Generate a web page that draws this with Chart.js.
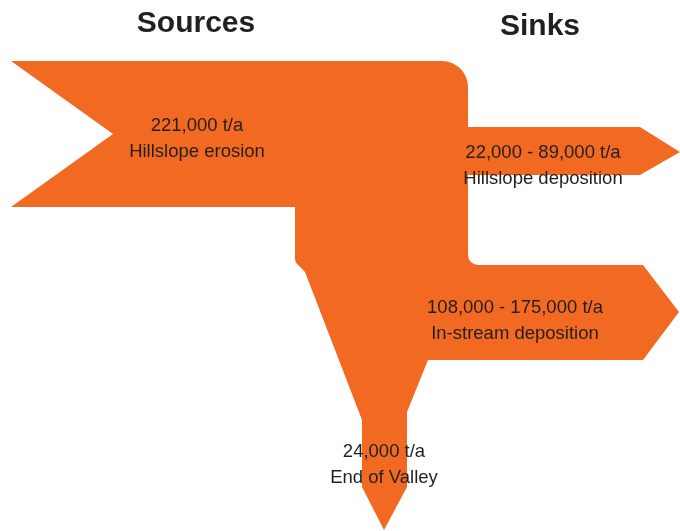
<!DOCTYPE html>
<html>
<head>
<meta charset="utf-8">
<script src="https://cdn.jsdelivr.net/npm/chart.js@4.4.1/dist/chart.umd.min.js"></script>
<style>
  body { margin: 0; background: #fff; }
  #wrap { width: 680px; height: 531px; }
</style>
</head>
<body>
<div id="wrap"><canvas id="flowChart" width="680" height="531"></canvas></div>
<script>
// sediment budget - values
const flowNames = ['Hillslope erosion', 'Hillslope deposition', 'In-stream deposition', 'End of Valley'];
const flowLow = [221000, 22000, 108000, 24000];
const flowHigh = [221000, 89000, 175000, 24000];
const groupTitles = ['Sources', 'Sinks'];

// layout of the diagram (chart units = px of the reference)
const labelAnchors = [{ x: 197, y: 139 }, { x: 543, y: 166 }, { x: 515, y: 321 }, { x: 384, y: 465 }];
const titleAnchors = [{ x: 196, y: 24 }, { x: 540, y: 27 }];
const outline = [
    { x: 11, y: 61 }, { x: 468, y: 61, r: 26 }, { x: 468, y: 127 }, { x: 640, y: 127 },
    { x: 680, y: 152 }, { x: 640, y: 175 }, { x: 468, y: 175 }, { x: 468, y: 265, r: 10 },
    { x: 643, y: 265 }, { x: 679, y: 312 }, { x: 643, y: 360 }, { x: 428, y: 360 },
    { x: 407, y: 412 }, { x: 407, y: 487 }, { x: 384, y: 530 }, { x: 362, y: 487 },
    { x: 362, y: 420 }, { x: 305, y: 272 }, { x: 295, y: 262, r: 8 }, { x: 295, y: 207 },
    { x: 11, y: 207 }, { x: 113, y: 134 }
];
const orange = '#f26a22';

function fmt(v) {
    return v.toLocaleString('en-US');
}

function flowText(i) {
    if (flowLow[i] === flowHigh[i]) return fmt(flowLow[i]) + ' t/a';
    return fmt(flowLow[i]) + ' - ' + fmt(flowHigh[i]) + ' t/a';
}

// draws the orange flow shape and the texts through the chart scales
const flowPlugin = {
    id: 'flowShape',
    beforeDatasetsDraw(chart) {
        const ctx = chart.ctx;
        const sx = chart.scales.x, sy = chart.scales.y;
        const pts = outline.map(p => ({ x: sx.getPixelForValue(p.x), y: sy.getPixelForValue(p.y), r: p.r }));
        ctx.save();
        ctx.beginPath();
        ctx.moveTo(pts[0].x, pts[0].y);
        for (let i = 1; i < pts.length; i++) {
            const p = pts[i];
            const next = pts[(i + 1) % pts.length];
            if (p.r) ctx.arcTo(p.x, p.y, next.x, next.y, p.r);
            else ctx.lineTo(p.x, p.y);
        }
        ctx.closePath();
        ctx.fillStyle = orange;
        ctx.fill();
        ctx.restore();
    },
    afterDatasetsDraw(chart) {
        const ctx = chart.ctx;
        const sx = chart.scales.x, sy = chart.scales.y;
        ctx.save();
        ctx.textAlign = 'center';
        ctx.textBaseline = 'middle';
        ctx.fillStyle = '#231f20';
        ctx.font = '18.5px "Liberation Sans", Arial, sans-serif';
        chart.data.datasets[0].data.forEach((pt, i) => {
            const x = sx.getPixelForValue(pt.x), y = sy.getPixelForValue(pt.y);
            ctx.fillText(flowText(i), x, y - 13);
            ctx.fillText(flowNames[i], x, y + 13);
        });
        ctx.font = 'bold 30px "Liberation Sans", Arial, sans-serif';
        titleAnchors.forEach((t, i) => {
            ctx.fillText(groupTitles[i], sx.getPixelForValue(t.x), sy.getPixelForValue(t.y));
        });
        ctx.restore();
    }
};

new Chart(document.getElementById('flowChart'), {
    type: 'scatter',
    data: {
        datasets: [{
            label: 'flows',
            data: labelAnchors,
            pointRadius: 0,
            pointHoverRadius: 0
        }]
    },
    options: {
        responsive: false,
        animation: false,
        layout: { padding: 0 },
        plugins: { legend: { display: false }, tooltip: { enabled: false }, title: { display: false } },
        scales: {
            x: { type: 'linear', min: 0, max: 680, display: false },
            y: { type: 'linear', min: 0, max: 531, reverse: true, display: false }
        }
    },
    plugins: [flowPlugin]
});
</script>
</body>
</html>
